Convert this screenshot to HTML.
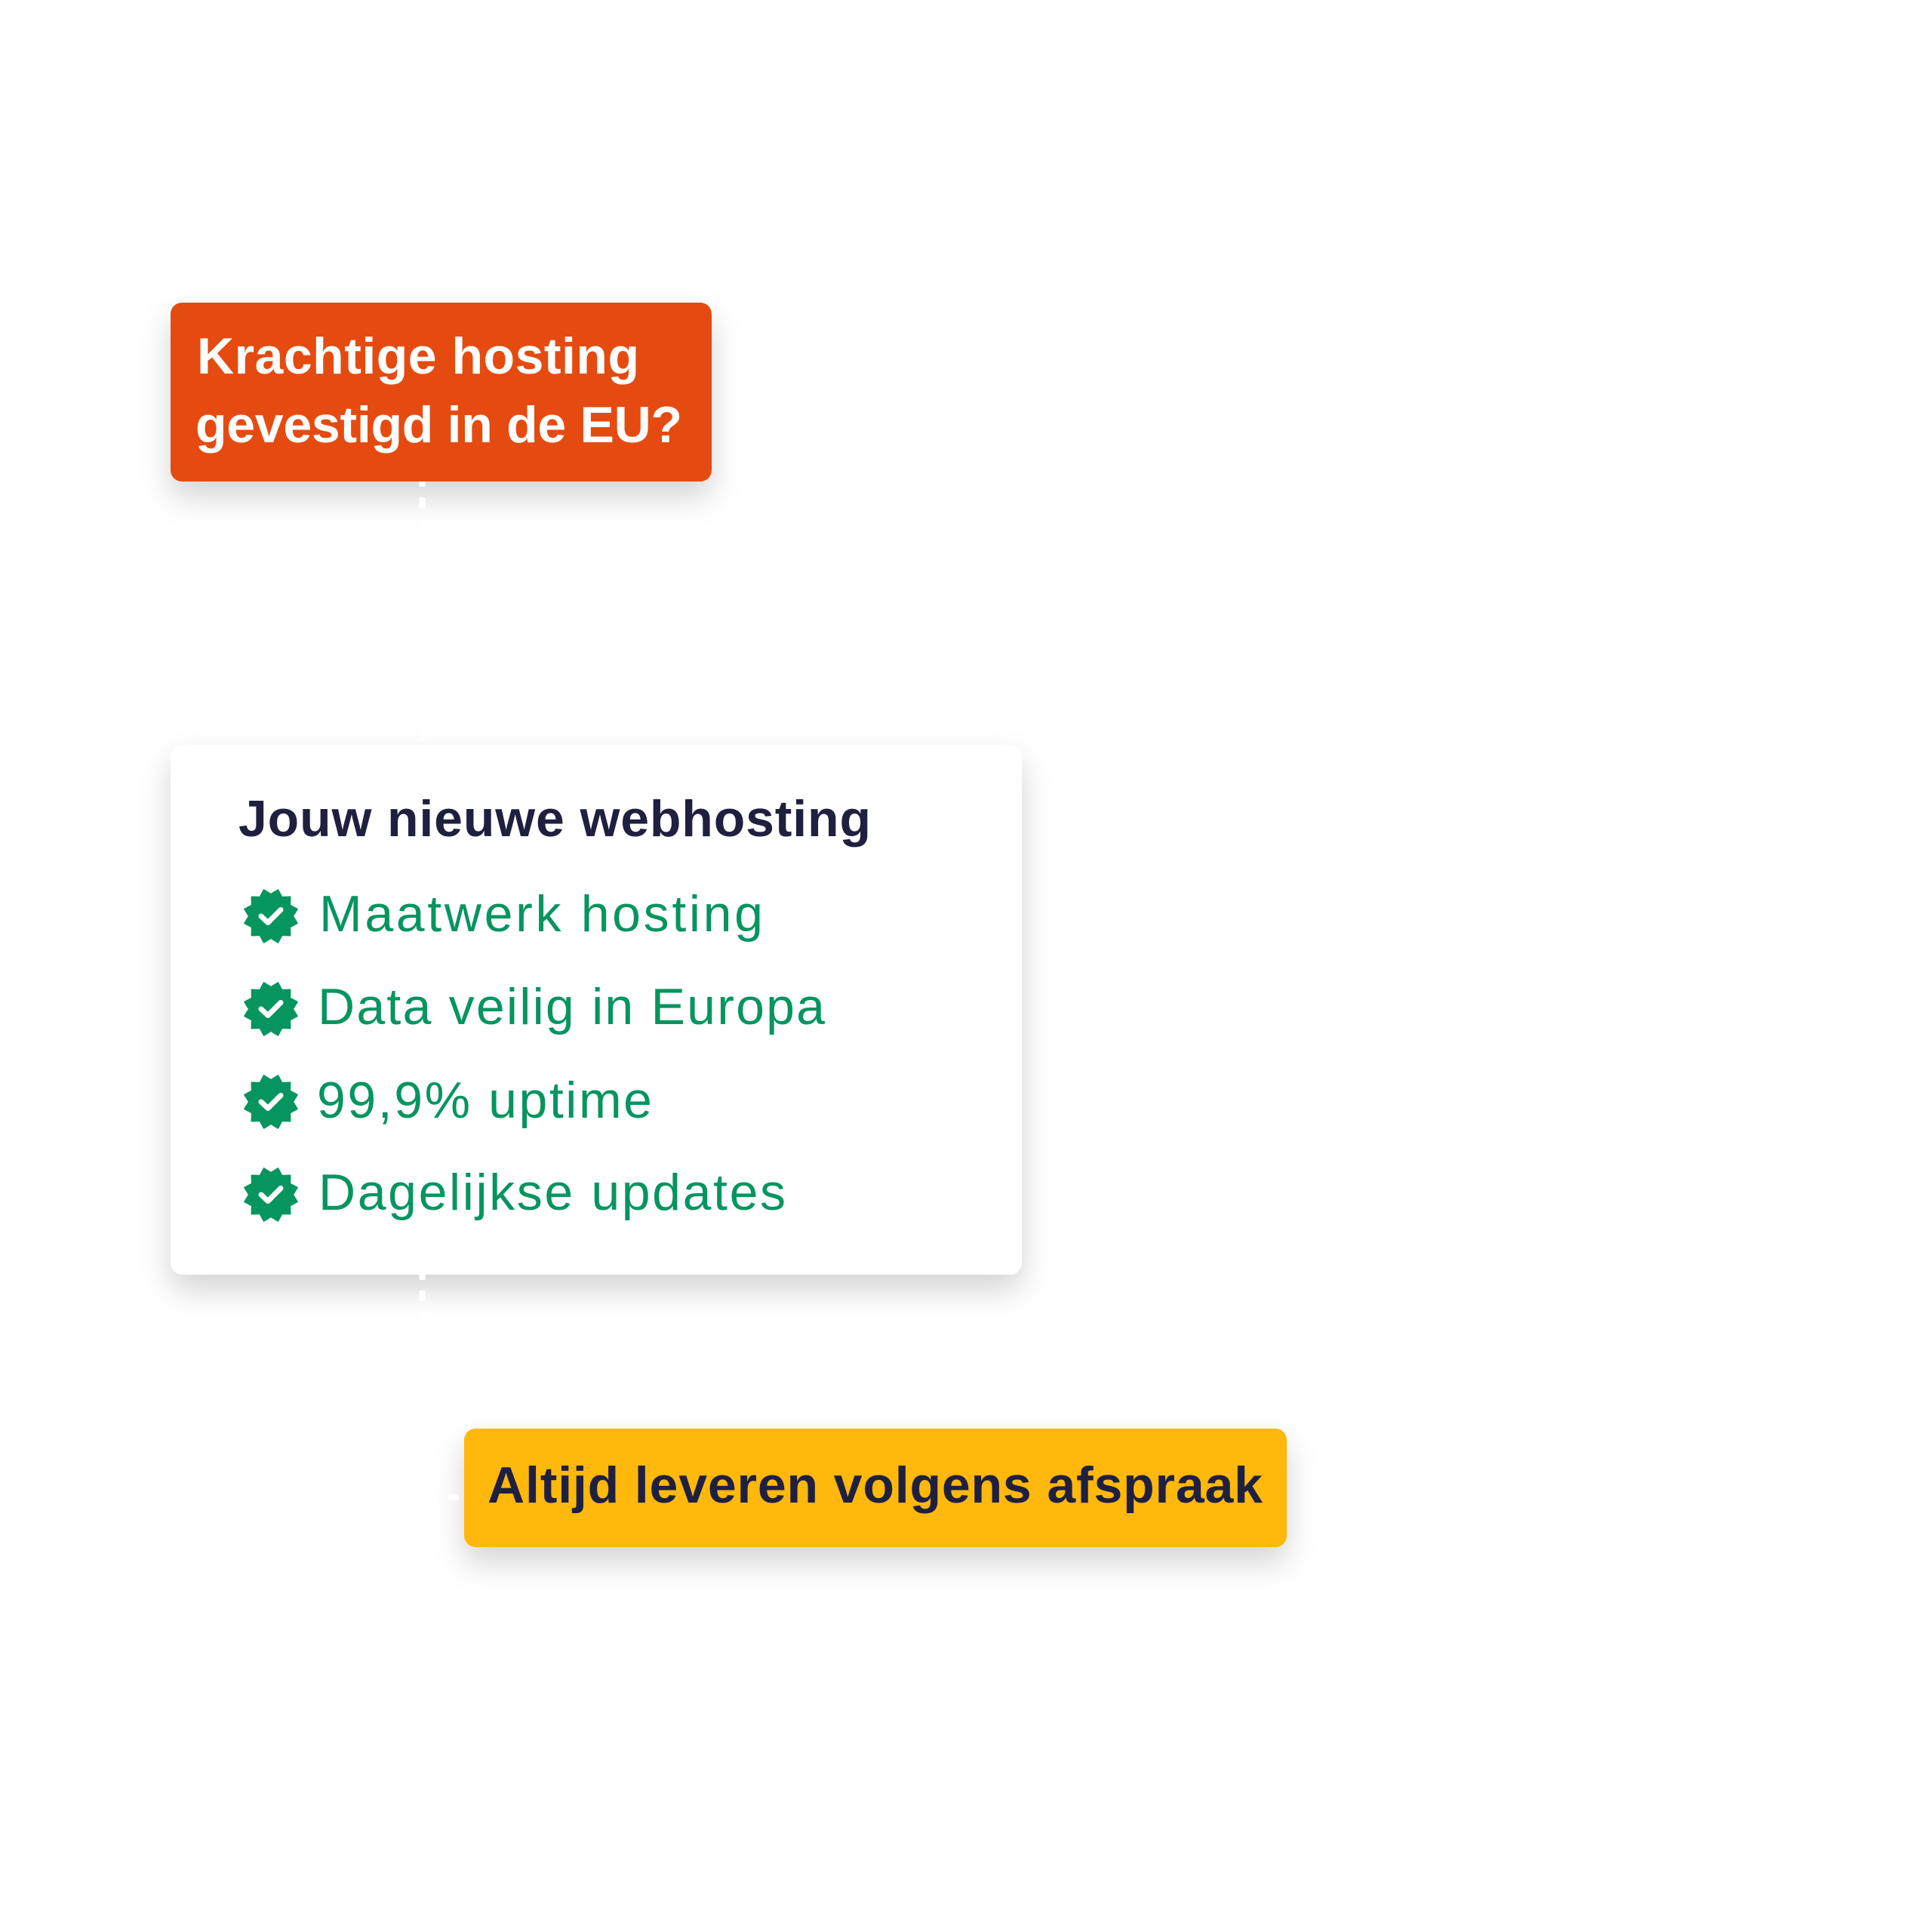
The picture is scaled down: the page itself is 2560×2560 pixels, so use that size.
<!DOCTYPE html>
<html>
<head>
<meta charset="utf-8">
<style>
  html, body { margin: 0; padding: 0; background: #ffffff; }
  body { width: 2560px; height: 2560px; overflow: hidden; }
  svg { display: block; }
  text { font-family: "Liberation Sans", "DejaVu Sans", sans-serif; }
</style>
</head>
<body>
<svg width="2560" height="2560" viewBox="0 0 2560 2560" xmlns="http://www.w3.org/2000/svg">
  <defs>
    <filter id="sh" x="-20%" y="-40%" width="140%" height="200%">
      <feDropShadow dx="0" dy="20" stdDeviation="20" flood-color="#000000" flood-opacity="0.17"/>
    </filter>
    <symbol id="badge" viewBox="-40 -40 80 80" overflow="visible">
      <polygon points="29,0 34.77,9.32 25.11,14.5 25.46,25.46 14.5,25.11 9.32,34.77 0,29 -9.32,34.77 -14.5,25.11 -25.46,25.46 -25.11,14.5 -34.77,9.32 -29,0 -34.77,-9.32 -25.11,-14.5 -25.46,-25.46 -14.5,-25.11 -9.32,-34.77 0,-29 9.32,-34.77 14.5,-25.11 25.46,-25.46 25.11,-14.5 34.77,-9.32" fill="#06955f" stroke="#06955f" stroke-width="2" stroke-linejoin="round"/>
      <polyline points="-13,0 -4,8.5 13,-8.5" fill="none" stroke="#ffffff" stroke-width="7" stroke-linecap="round" stroke-linejoin="round"/>
    </symbol>
  </defs>

  <rect width="2560" height="2560" fill="#ffffff"/>

  <!-- shadows -->
  <rect x="226" y="401" width="717" height="237" rx="15" ry="15" fill="#ffffff" filter="url(#sh)"/>
  <rect x="226" y="987" width="1128" height="702" rx="16" ry="16" fill="#ffffff" filter="url(#sh)"/>
  <rect x="615" y="1893" width="1090" height="157" rx="15" ry="15" fill="#ffffff" filter="url(#sh)"/>

  <!-- dashed connectors (white) -->
  <line x1="559.5" y1="631" x2="559.5" y2="992" stroke="#ffffff" stroke-width="8" stroke-dasharray="14 14"/>
  <line x1="559.5" y1="1682" x2="559.5" y2="1984" stroke="#ffffff" stroke-width="8" stroke-dasharray="14 14"/>
  <line x1="566" y1="1984" x2="620" y2="1984" stroke="#ffffff" stroke-width="8" stroke-dasharray="14 14"/>

  <!-- orange box -->
  <rect x="226" y="401" width="717" height="237" rx="15" ry="15" fill="#e54b10"/>
  <text x="261" y="495" font-size="68" font-weight="bold" fill="#ffffff" textLength="586" lengthAdjust="spacing">Krachtige hosting</text>
  <text x="259" y="586" font-size="68" font-weight="bold" fill="#ffffff" textLength="645" lengthAdjust="spacing">gevestigd in de EU?</text>

  <!-- white card -->
  <rect x="226" y="987" width="1128" height="702" rx="16" ry="16" fill="#ffffff"/>
  <text x="316" y="1108" font-size="68" font-weight="bold" fill="#1f1f3f" textLength="838" lengthAdjust="spacing">Jouw nieuwe webhosting</text>

  <use href="#badge" x="319" y="1174" width="80" height="80"/>
  <text x="423" y="1234" font-size="68" fill="#06955f" textLength="588" lengthAdjust="spacing">Maatwerk hosting</text>

  <use href="#badge" x="319" y="1297" width="80" height="80"/>
  <text x="421" y="1357" font-size="68" fill="#06955f" textLength="672" lengthAdjust="spacing">Data veilig in Europa</text>

  <use href="#badge" x="319" y="1420" width="80" height="80"/>
  <text x="420" y="1481" font-size="68" fill="#06955f" textLength="444" lengthAdjust="spacing">99,9% uptime</text>

  <use href="#badge" x="319" y="1543" width="80" height="80"/>
  <text x="422" y="1603" font-size="68" fill="#06955f" textLength="619" lengthAdjust="spacing">Dagelijkse updates</text>

  <!-- yellow box -->
  <rect x="615" y="1893" width="1090" height="157" rx="15" ry="15" fill="#ffb80b"/>
  <text x="646" y="1991" font-size="68" font-weight="bold" fill="#1f2040" textLength="1027" lengthAdjust="spacing">Altijd leveren volgens afspraak</text>
</svg>
</body>
</html>
